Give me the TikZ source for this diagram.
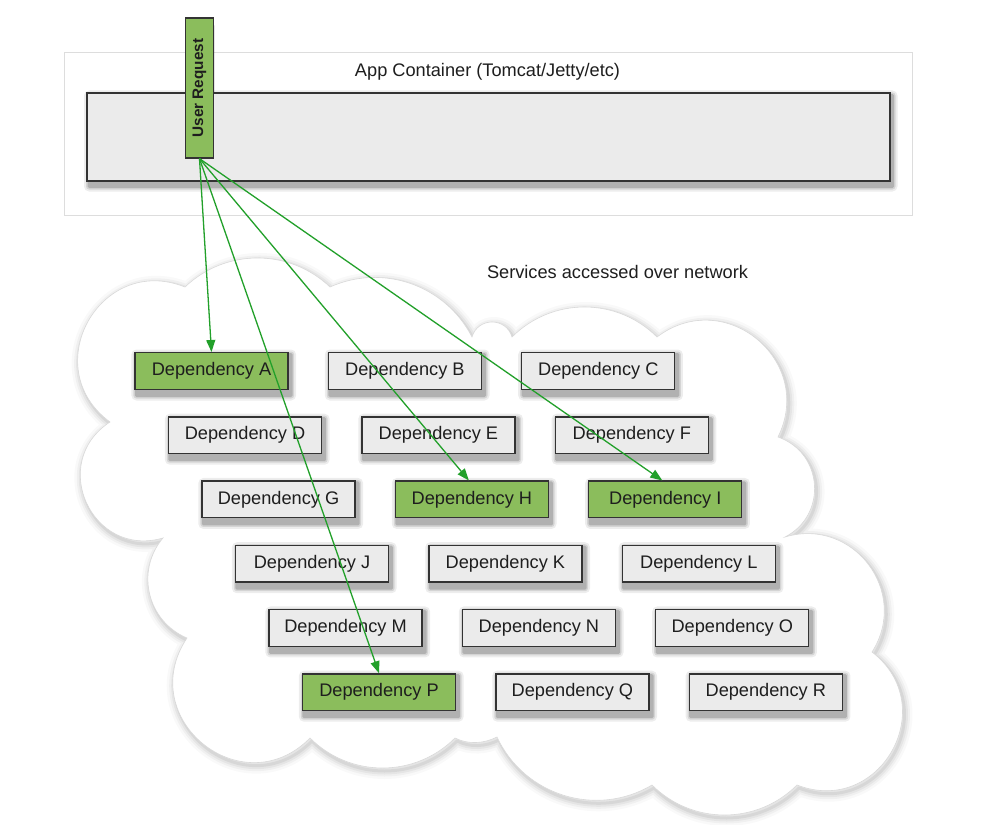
\documentclass[tikz,border=0pt]{standalone}
\usepackage{fontspec}
\setmainfont{Liberation Sans}
\usetikzlibrary{arrows.meta,calc}
\pgfdeclarelayer{cloudlayer}
\pgfdeclarelayer{shadowlayer}
\pgfsetlayers{cloudlayer,shadowlayer,main}
\definecolor{boxgray}{HTML}{EBEBEB}
\definecolor{boxgreen}{HTML}{8BBD5C}
\definecolor{edgegray}{HTML}{333333}
\definecolor{arrowgreen}{HTML}{22A02A}
\definecolor{framegray}{HTML}{DDDDDD}
\definecolor{txt}{HTML}{1E1E1E}
\def\cloudpath{(185,287)
 .. controls (225.6,248.3) and (289.4,248.3) .. (330,287)
 .. controls (383.1,263.2) and (445.5,285.2) .. (472,337)
 .. controls (477.8,317) and (506.2,317) .. (512,337)
 .. controls (552.1,297) and (616.9,297) .. (657,337)
 .. controls (724.9,285.7) and (815.5,360.7) .. (778,437)
 .. controls (823.2,452.8) and (827.6,515) .. (785,537)
 .. controls (853.2,516.6) and (910.2,592) .. (872,652)
 .. controls (942.3,706.3) and (879.9,817.1) .. (797,785)
 .. controls (756.9,825) and (692.1,825) .. (652,785)
 .. controls (596.4,818) and (524.2,795.6) .. (497,737)
 .. controls (483.8,743.7) and (468.2,744.7) .. (455,738)
 .. controls (414.9,778) and (350.1,778) .. (310,738)
 .. controls (242.2,806.6) and (133.6,718.4) .. (187,638)
 .. controls (147.3,621.3) and (135.1,570.9) .. (163,538)
 .. controls (91.8,558.6) and (47.8,462.4) .. (110,422)
 .. controls (36.3,367.8) and (100.1,253) .. (185,287) -- cycle}
% soft shadow behind a box given by its top-left and bottom-right corners
\newcommand\boxshade[2]{%
  \foreach \k/\o in {5/0.07,3/0.10,1.5/0.16}{%
    \fill[black, opacity=\o, rounded corners=\k pt]
      ($#1+(2-\k,2.5-\k)$) rectangle ($#2+(2.5+\k,5.5+\k)$);
  }%
}
\begin{document}
\begin{tikzpicture}[x=1pt,y=-1pt,
  every node/.style={font=\fontsize{18.2}{21}\selectfont, text=txt},
  depbox/.style={draw=edgegray, line width=1.3pt, fill=boxgray,
    minimum width=153pt, minimum height=36.7pt, inner sep=0pt},
  depon/.style={depbox, fill=boxgreen},
  containerbox/.style={draw=edgegray, line width=1.3pt, fill=boxgray},
  urbox/.style={draw=edgegray, line width=1.3pt, fill=boxgreen,
    minimum width=140pt, minimum height=28pt, inner sep=0pt,
    font=\fontsize{15.3}{18}\selectfont\bfseries},
  req/.style={draw=arrowgreen, line width=1.3pt, -{Triangle[length=12pt,width=9pt]}},
  labeltext/.style={inner sep=0pt}
]
\useasboundingbox (0,0) rectangle (1003,824);

\begin{pgfonlayer}{cloudlayer}
\fill[white] (0,0) rectangle (1003,824);
% container frame
\draw[framegray, line width=1pt] (64,53) rectangle (912,215);
% cloud with soft shadow
\foreach \w/\o in {16/0.025, 11/0.035, 7/0.045, 3/0.06}{
  \path[draw=black, draw opacity=\o, line width=\w pt, line join=round, shift={(2,3)}] \cloudpath;
}
\path[fill=white, draw=black!15, line width=0.6pt] \cloudpath;
\end{pgfonlayer}

\node[labeltext] (apptitle) at (487.5,72) {App Container (Tomcat/Jetty/etc)};
\coordinate (ctl) at (87,93);
\coordinate (cbr) at (890,181);
\path[containerbox] (ctl) rectangle (cbr);
\node[urbox, rotate=90] (ur) at (199.5,88) {User Request};
\node[labeltext] (svc) at (617.5,272) {Services accessed over network};

% dependencies
\node[depon]  (A) at (211.5,371) {Dependency A};
\node[depbox] (B) at (404.9,371) {Dependency B};
\node[depbox] (C) at (598.3,371) {Dependency C};
\node[depbox] (D) at (245.0,435.24) {Dependency D};
\node[depbox] (E) at (438.4,435.24) {Dependency E};
\node[depbox] (F) at (631.8,435.24) {Dependency F};
\node[depbox] (G) at (278.5,499.48) {Dependency G};
\node[depon]  (H) at (471.9,499.48) {Dependency H};
\node[depon]  (I) at (665.3,499.48) {Dependency I};
\node[depbox] (J) at (312.0,563.72) {Dependency J};
\node[depbox] (K) at (505.4,563.72) {Dependency K};
\node[depbox] (L) at (698.8,563.72) {Dependency L};
\node[depbox] (M) at (345.5,627.96) {Dependency M};
\node[depbox] (N) at (538.9,627.96) {Dependency N};
\node[depbox] (O) at (732.3,627.96) {Dependency O};
\node[depon]  (P) at (379.0,692.2) {Dependency P};
\node[depbox] (Q) at (572.4,692.2) {Dependency Q};
\node[depbox] (R) at (765.8,692.2) {Dependency R};

% shadows
\begin{pgfonlayer}{shadowlayer}
\boxshade{(ctl)}{(cbr)}
\boxshade{(ur.south west)}{(ur.north east)}
\foreach \n in {A,B,C,D,E,F,G,H,I,J,K,L,M,N,O,P,Q,R}{
  \boxshade{(\n.north west)}{(\n.south east)}
}
\end{pgfonlayer}

% requests
\draw[req] (ur.west) -- (A.north);
\draw[req] (ur.west) -- (P.north);
\draw[req] (ur.west) -- ([xshift=-3pt]H.north);
\draw[req] (ur.west) -- ([xshift=-3pt]I.north);
\end{tikzpicture}
\end{document}
